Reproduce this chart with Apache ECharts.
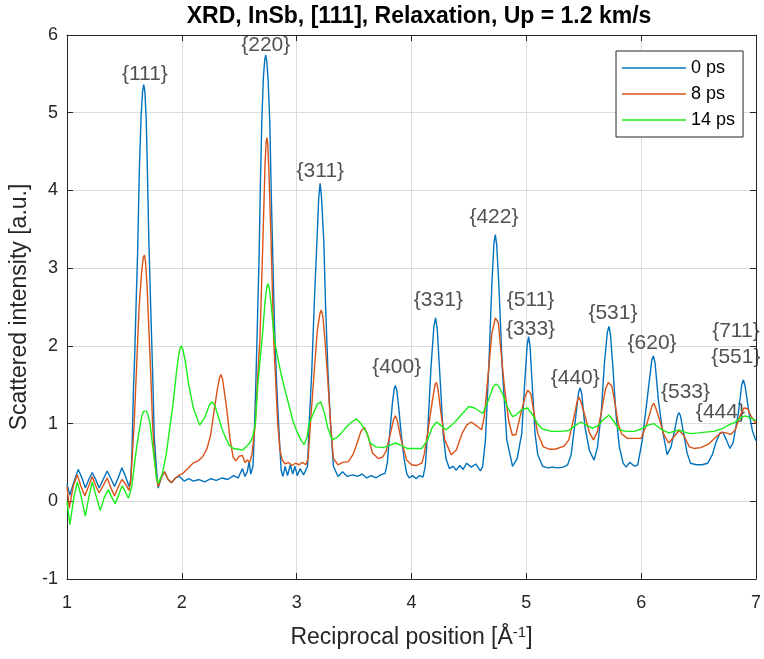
<!DOCTYPE html>
<html>
<head>
<meta charset="utf-8">
<script src="https://cdn.jsdelivr.net/npm/echarts@6/dist/echarts.min.js"></script>
<style>html,body{margin:0;padding:0;background:#fff}#c{width:764px;height:659px}</style>
</head>
<body>
<div id="c"></div>
<script>
const seriesNames = ['0 ps', '8 ps', '14 ps'];
const seriesColors = ['#0072BD', '#D95319', '#1aef1a'];

const curve0ps = [[1.000,0.22],[1.025,0.08],[1.060,0.25],[1.098,0.41],[1.130,0.30],[1.160,0.17],[1.190,0.28],[1.220,0.37],[1.250,0.28],[1.280,0.17],[1.315,0.28],[1.350,0.39],[1.380,0.30],[1.414,0.19],[1.445,0.30],[1.478,0.43],[1.510,0.32],[1.540,0.19],[1.555,0.28],[1.565,0.60],[1.578,1.40],[1.590,1.90],[1.602,2.55],[1.615,3.20],[1.630,4.26],[1.645,4.95],[1.658,5.27],[1.668,5.36],[1.678,5.28],[1.690,4.91],[1.700,4.26],[1.712,3.40],[1.728,2.55],[1.745,1.69],[1.760,0.83],[1.780,0.40],[1.794,0.17],[1.820,0.30],[1.850,0.38],[1.880,0.28],[1.910,0.24],[1.945,0.30],[1.980,0.32],[2.020,0.26],[2.060,0.29],[2.100,0.26],[2.150,0.28],[2.200,0.25],[2.250,0.29],[2.300,0.27],[2.350,0.30],[2.400,0.28],[2.450,0.33],[2.490,0.30],[2.528,0.42],[2.550,0.32],[2.570,0.38],[2.586,0.51],[2.600,0.35],[2.620,0.45],[2.634,1.00],[2.646,1.60],[2.658,2.29],[2.673,3.15],[2.683,4.01],[2.696,4.87],[2.710,5.45],[2.722,5.68],[2.730,5.74],[2.740,5.66],[2.752,5.40],[2.766,4.87],[2.778,4.01],[2.792,3.15],[2.806,2.29],[2.828,1.43],[2.850,0.79],[2.865,0.40],[2.880,0.32],[2.900,0.45],[2.920,0.33],[2.945,0.47],[2.965,0.35],[2.985,0.45],[3.005,0.33],[3.030,0.42],[3.060,0.34],[3.095,0.45],[3.109,1.00],[3.131,1.65],[3.152,2.50],[3.178,3.40],[3.192,3.90],[3.204,4.09],[3.216,3.92],[3.236,3.36],[3.252,2.50],[3.273,1.65],[3.295,1.00],[3.320,0.45],[3.360,0.32],[3.400,0.38],[3.440,0.32],[3.490,0.34],[3.530,0.32],[3.570,0.35],[3.610,0.30],[3.650,0.33],[3.690,0.30],[3.730,0.34],[3.770,0.36],[3.790,0.50],[3.810,0.87],[3.835,1.28],[3.850,1.45],[3.860,1.49],[3.872,1.43],[3.888,1.22],[3.910,0.87],[3.935,0.55],[3.958,0.36],[3.980,0.30],[4.010,0.33],[4.040,0.29],[4.070,0.33],[4.100,0.31],[4.120,0.45],[4.140,0.87],[4.170,1.73],[4.195,2.25],[4.210,2.36],[4.224,2.22],[4.245,1.68],[4.276,0.87],[4.300,0.55],[4.330,0.42],[4.360,0.45],[4.390,0.40],[4.420,0.46],[4.450,0.41],[4.480,0.49],[4.520,0.44],[4.560,0.48],[4.600,0.39],[4.620,0.45],[4.644,0.79],[4.673,1.73],[4.700,2.80],[4.718,3.32],[4.730,3.43],[4.742,3.30],[4.762,2.75],[4.790,1.73],[4.830,0.79],[4.880,0.45],[4.920,0.55],[4.960,0.87],[4.985,1.51],[5.008,2.02],[5.020,2.12],[5.032,2.00],[5.052,1.48],[5.076,0.87],[5.100,0.60],[5.142,0.45],[5.190,0.43],[5.225,0.44],[5.270,0.43],[5.320,0.44],[5.360,0.47],[5.390,0.60],[5.420,0.96],[5.455,1.40],[5.469,1.46],[5.483,1.38],[5.510,0.96],[5.550,0.65],[5.590,0.53],[5.620,0.70],[5.652,1.13],[5.680,1.78],[5.706,2.18],[5.720,2.25],[5.733,2.14],[5.755,1.70],[5.780,1.13],[5.810,0.70],[5.843,0.49],[5.870,0.44],[5.900,0.50],[5.944,0.45],[5.970,0.47],[6.010,0.79],[6.055,1.35],[6.093,1.82],[6.107,1.87],[6.121,1.78],[6.150,1.30],[6.185,0.92],[6.226,0.60],[6.260,0.70],[6.285,0.87],[6.318,1.11],[6.330,1.14],[6.342,1.10],[6.370,0.87],[6.400,0.62],[6.430,0.49],[6.480,0.47],[6.530,0.47],[6.580,0.49],[6.620,0.60],[6.650,0.75],[6.685,0.88],[6.700,0.90],[6.715,0.88],[6.745,0.78],[6.774,0.68],[6.800,0.75],[6.846,1.13],[6.876,1.50],[6.890,1.56],[6.904,1.49],[6.940,1.13],[6.970,0.90],[7.000,0.78]];

const curve8ps = [[1.000,0.19],[1.020,-0.09],[1.055,0.20],[1.090,0.34],[1.120,0.20],[1.155,0.07],[1.190,0.20],[1.220,0.32],[1.250,0.20],[1.280,0.11],[1.315,0.20],[1.350,0.30],[1.380,0.18],[1.414,0.07],[1.445,0.18],[1.478,0.28],[1.510,0.22],[1.540,0.14],[1.555,0.25],[1.565,0.50],[1.585,1.00],[1.605,1.70],[1.628,2.50],[1.650,2.95],[1.664,3.13],[1.674,3.17],[1.684,3.08],[1.698,2.75],[1.712,2.25],[1.728,1.69],[1.745,1.00],[1.760,0.60],[1.780,0.30],[1.794,0.19],[1.820,0.30],[1.850,0.38],[1.880,0.28],[1.910,0.24],[1.945,0.30],[1.980,0.34],[2.010,0.36],[2.050,0.42],[2.097,0.49],[2.140,0.52],[2.180,0.57],[2.220,0.68],[2.250,0.85],[2.280,1.15],[2.310,1.45],[2.330,1.60],[2.340,1.63],[2.355,1.57],[2.390,1.20],[2.420,0.80],[2.446,0.57],[2.470,0.52],[2.500,0.58],[2.528,0.59],[2.550,0.50],[2.570,0.53],[2.590,0.50],[2.610,0.60],[2.640,1.00],[2.660,1.60],[2.680,2.08],[2.706,3.36],[2.725,4.35],[2.734,4.62],[2.740,4.68],[2.748,4.60],[2.758,4.25],[2.777,3.36],[2.800,2.08],[2.835,1.00],[2.855,0.65],[2.875,0.53],[2.900,0.48],[2.930,0.50],[2.960,0.46],[2.990,0.49],[3.020,0.47],[3.050,0.50],[3.080,0.47],[3.100,0.55],[3.120,1.00],[3.152,1.65],[3.180,2.20],[3.203,2.42],[3.215,2.46],[3.228,2.38],[3.248,2.05],[3.267,1.65],[3.295,1.00],[3.320,0.55],[3.360,0.47],[3.400,0.50],[3.450,0.51],[3.490,0.60],[3.520,0.72],[3.560,0.90],[3.590,0.95],[3.620,0.85],[3.660,0.62],[3.710,0.55],[3.750,0.57],[3.780,0.65],[3.810,0.83],[3.845,1.06],[3.860,1.10],[3.876,1.04],[3.910,0.79],[3.958,0.53],[4.000,0.47],[4.040,0.46],[4.090,0.49],[4.110,0.60],[4.140,0.87],[4.180,1.28],[4.205,1.50],[4.217,1.53],[4.230,1.45],[4.255,1.15],[4.290,0.79],[4.346,0.60],[4.390,0.66],[4.440,0.87],[4.480,0.98],[4.520,1.02],[4.577,0.96],[4.610,0.92],[4.635,1.10],[4.660,1.51],[4.700,2.16],[4.730,2.36],[4.743,2.38],[4.756,2.30],[4.780,1.92],[4.810,1.46],[4.846,1.04],[4.878,0.85],[4.910,0.86],[4.947,1.10],[4.990,1.35],[5.012,1.43],[5.025,1.44],[5.040,1.38],[5.065,1.15],[5.100,0.87],[5.148,0.70],[5.200,0.67],[5.250,0.67],[5.330,0.71],[5.370,0.79],[5.410,1.05],[5.445,1.30],[5.459,1.34],[5.475,1.28],[5.510,1.10],[5.550,0.88],[5.585,0.79],[5.620,0.90],[5.660,1.20],[5.690,1.45],[5.715,1.53],[5.728,1.54],[5.745,1.48],[5.770,1.28],[5.800,1.00],[5.829,0.87],[5.880,0.81],[5.940,0.81],[6.000,0.81],[6.050,1.00],[6.095,1.23],[6.110,1.26],[6.125,1.21],[6.160,1.05],[6.200,0.85],[6.240,0.75],[6.280,0.82],[6.330,0.91],[6.370,0.85],[6.420,0.70],[6.460,0.68],[6.520,0.69],[6.590,0.74],[6.640,0.81],[6.700,0.89],[6.740,0.88],[6.780,0.86],[6.820,0.92],[6.860,1.10],[6.895,1.20],[6.910,1.22],[6.928,1.19],[6.955,1.10],[7.000,1.00]];

const curve14ps = [[1.000,0.00],[1.025,-0.30],[1.060,0.05],[1.090,0.25],[1.125,0.05],[1.160,-0.19],[1.190,0.05],[1.220,0.25],[1.255,0.06],[1.290,-0.12],[1.325,0.05],[1.360,0.15],[1.390,0.05],[1.420,-0.03],[1.450,0.08],[1.480,0.20],[1.510,0.12],[1.535,0.04],[1.564,0.19],[1.585,0.45],[1.607,0.70],[1.630,0.92],[1.650,1.09],[1.668,1.16],[1.680,1.18],[1.692,1.16],[1.708,1.10],[1.723,1.00],[1.750,0.66],[1.780,0.30],[1.794,0.23],[1.830,0.35],[1.866,0.62],[1.895,0.95],[1.924,1.26],[1.950,1.62],[1.970,1.86],[1.985,1.97],[1.996,2.00],[2.010,1.95],[2.030,1.80],[2.060,1.50],[2.100,1.20],[2.155,0.98],[2.200,1.08],[2.240,1.24],[2.264,1.28],[2.290,1.22],[2.320,1.08],[2.350,0.93],[2.380,0.82],[2.413,0.72],[2.450,0.68],[2.490,0.67],[2.528,0.66],[2.560,0.70],[2.600,0.77],[2.620,0.85],[2.640,1.00],[2.658,1.43],[2.680,1.80],[2.706,2.20],[2.725,2.58],[2.740,2.76],[2.750,2.80],[2.762,2.74],[2.780,2.50],[2.806,2.08],[2.835,1.85],[2.863,1.65],[2.900,1.42],[2.936,1.22],[2.970,1.02],[3.008,0.88],[3.040,0.78],[3.065,0.73],[3.090,0.82],[3.108,1.00],[3.150,1.15],[3.180,1.25],[3.209,1.28],[3.240,1.15],[3.270,0.95],[3.310,0.79],[3.350,0.82],[3.390,0.88],[3.435,0.96],[3.480,1.02],[3.520,1.06],[3.560,1.00],[3.610,0.88],[3.640,0.75],[3.690,0.70],[3.750,0.69],[3.810,0.72],[3.860,0.75],[3.910,0.72],[3.960,0.68],[4.020,0.68],[4.090,0.68],[4.140,0.79],[4.180,0.95],[4.220,1.02],[4.260,0.97],[4.300,0.92],[4.350,0.98],[4.390,1.04],[4.450,1.14],[4.500,1.22],[4.550,1.20],[4.620,1.13],[4.670,1.30],[4.710,1.47],[4.735,1.51],[4.760,1.48],[4.790,1.39],[4.840,1.20],[4.880,1.09],[4.910,1.11],[4.960,1.18],[5.010,1.20],[5.060,1.10],[5.100,0.99],[5.140,0.93],[5.220,0.90],[5.300,0.90],[5.370,0.91],[5.420,0.97],[5.475,1.02],[5.530,0.97],[5.580,0.94],[5.620,0.97],[5.670,1.05],[5.720,1.11],[5.760,1.03],[5.810,0.92],[5.870,0.90],[5.940,0.90],[6.000,0.93],[6.060,0.98],[6.110,1.00],[6.170,0.93],[6.240,0.88],[6.290,0.90],[6.330,0.92],[6.380,0.89],[6.430,0.87],[6.500,0.88],[6.560,0.89],[6.630,0.90],[6.700,0.93],[6.760,0.98],[6.820,1.02],[6.870,1.08],[6.910,1.10],[6.950,1.07],[7.000,1.04]];

const peakNames = ['{111}','{220}','{311}','{400}','{331}','{422}','{511}','{333}','{440}','{531}','{620}','{533}','{444}','{711}','{551}'];
const peakQ =     [1.678, 2.731, 3.206, 3.871, 4.234, 4.718, 5.037, 5.037, 5.426, 5.754, 6.095, 6.386, 6.690, 6.825, 6.825];
const peakI =     [5.50,  5.87,  4.25,  1.72,  2.59,  3.65,  2.59,  2.22,  1.59,  2.42,  2.04,  1.40,  1.14,  2.19,  1.86];

const xTicks = {min: 1, max: 7, interval: 1};
const yTicks = {min: -1, max: 6, interval: 1};

const FONT = '"Liberation Sans", Arial, Helvetica, sans-serif';
const TXT = '#262626';

const chart = echarts.init(document.getElementById('c'), null, {renderer: 'canvas'});

function axisCommon(extra) {
  return Object.assign({
    type: 'value',
    axisLine: {show: true, onZero: false, lineStyle: {color: TXT, width: 1}},
    axisTick: {show: true, inside: true, length: 6, lineStyle: {color: TXT}},
  }, extra);
}

const option = {
  animation: false,
  backgroundColor: '#fff',
  title: {
    text: 'XRD, InSb, [111], Relaxation, Up = 1.2 km/s',
    left: 414, top: 0, textAlign: 'center',
    textStyle: {fontFamily: FONT, fontSize: 23, fontWeight: 'bold', color: '#000'}
  },
  legend: {
    data: seriesNames,
    orient: 'vertical',
    left: 616, top: 51,
    icon: 'rect',
    itemWidth: 64, itemHeight: 1.5, itemGap: 8,
    padding: [8, 8, 8, 6],
    backgroundColor: '#fff',
    borderColor: TXT, borderWidth: 1, borderRadius: 0,
    textStyle: {fontFamily: FONT, fontSize: 18, color: '#000'}
  },
  grid: {left: 67, right: 2, top: 35, bottom: 80, containLabel: false},
  xAxis: [
    axisCommon({
      min: xTicks.min, max: xTicks.max, interval: xTicks.interval, position: 'bottom',
      name: 'Reciprocal position [Å{sup|-1}]',
      nameLocation: 'middle', nameGap: 46,
      nameTextStyle: {fontFamily: FONT, fontSize: 23, color: TXT,
        rich: {sup: {fontFamily: FONT, fontSize: 15, color: TXT, verticalAlign: 'top', padding: [0, 0, 10, 0]}}},
      axisLabel: {fontFamily: FONT, fontSize: 18, color: TXT, margin: 15},
      splitLine: {show: true, lineStyle: {color: '#dcdcdc', width: 1}}
    }),
    axisCommon({
      min: xTicks.min, max: xTicks.max, interval: xTicks.interval, position: 'top',
      axisLabel: {show: false}, splitLine: {show: false}
    })
  ],
  yAxis: [
    axisCommon({
      min: yTicks.min, max: yTicks.max, interval: yTicks.interval, position: 'left',
      name: 'Scattered intensity [a.u.]',
      nameLocation: 'middle', nameGap: 35,
      nameTextStyle: {fontFamily: FONT, fontSize: 23, color: TXT},
      axisLabel: {fontFamily: FONT, fontSize: 18, color: TXT, margin: 9},
      splitLine: {show: true, lineStyle: {color: '#dcdcdc', width: 1}}
    }),
    axisCommon({
      min: yTicks.min, max: yTicks.max, interval: yTicks.interval, position: 'right',
      axisLabel: {show: false}, splitLine: {show: false}
    })
  ],
  series: [
    {name: seriesNames[0], type: 'line', data: curve0ps, symbol: 'none', color: seriesColors[0],
     lineStyle: {width: 1.4}, clip: true, silent: true},
    {name: seriesNames[1], type: 'line', data: curve8ps, symbol: 'none', color: seriesColors[1],
     lineStyle: {width: 1.4}, clip: true, silent: true},
    {name: seriesNames[2], type: 'line', data: curve14ps, symbol: 'none', color: seriesColors[2],
     lineStyle: {width: 1.4}, clip: true, silent: true},
    {name: 'peaks', type: 'scatter', symbolSize: 0, silent: true, clip: false,
     data: peakNames.map((n, k) => ({name: n, value: [peakQ[k], peakI[k]]})),
     label: {show: true, position: 'inside', formatter: p => p.name,
       fontFamily: FONT, fontSize: 21, color: TXT}}
  ]
};
chart.setOption(option);
</script>
</body>
</html>
